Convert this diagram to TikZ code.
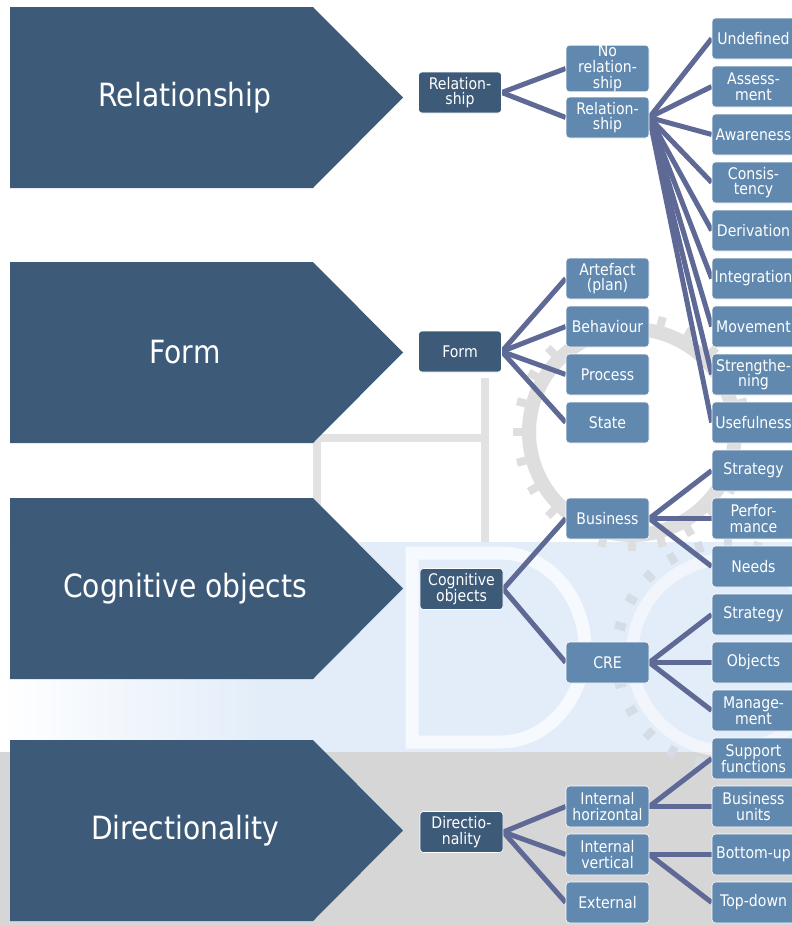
\documentclass[tikz,border=0pt]{standalone}
\usepackage{fontspec}
\setmainfont{DejaVu Sans}[FakeStretch=0.88]
\definecolor{navy}{HTML}{3D5B79}
\definecolor{steel}{HTML}{6189AF}
\definecolor{linkc}{HTML}{5E6996}
\definecolor{bandblue}{HTML}{E3EDF9}
\definecolor{bandgray}{HTML}{D6D6D6}
\definecolor{gearc}{HTML}{DEDEDE}
\definecolor{gearb}{HTML}{D6DCE5}
\definecolor{framec}{HTML}{E2E2E2}
\pgfdeclarelayer{back}
\pgfdeclarelayer{links}
\pgfsetlayers{back,links,main}
\begin{document}
\begin{tikzpicture}[x=1pt,y=-1pt,
  hdrtext/.style={text=white,inner sep=0pt,font=\fontsize{32}{36}\selectfont},
  topbox/.style={rectangle,rounded corners=3.5pt,draw=white,line width=0.6pt,
    fill=navy,text=white,minimum width=83pt,minimum height=41pt,inner sep=0pt,
    align=center,font=\fontsize{16}{15.8}\selectfont},
  subbox/.style={topbox,fill=steel},
  link/.style={draw=linkc,line width=5pt}]

\useasboundingbox (0,0) rectangle (792,926);
\clip (0,0) rectangle (792,926);

% ---------- backdrop: bands and faint logo ----------
\begin{pgfonlayer}{back}
  \fill[white] (0,0) rectangle (792,926);
  \shade[left color=white,right color=bandblue] (0,542) rectangle (260,752);
  \fill[bandblue] (259,542) rectangle (792,752);
  \fill[bandgray] (0,752) rectangle (792,926);
  % frame strokes
  \draw[framec,line width=8pt] (317,542) -- (317,438) -- (485,438);
  \draw[framec,line width=8pt] (485,378) -- (485,542);
  % upper gear
  \draw[gearc,line width=14pt] (632,432) circle (103);
  \foreach \a in {0,15,...,345}
    \draw[gearc,line width=8pt,shift={(632,432)}] (\a:108) -- (\a:119);
  % letter outline
  \draw[white,line width=13pt,opacity=.7] (412,742) -- (412,553) -- (500,553)
    .. controls (550,553) and (585,600) .. (585,647.5)
    .. controls (585,695) and (550,742) .. (500,742) -- cycle;
  % lower gear
  \foreach \a in {0,15,...,345}
    \draw[gearb,line width=8pt,shift={(728,655)}] (\a:106) -- (\a:117);
  \draw[white,line width=12pt,opacity=.55] (728,655) circle (96);
\end{pgfonlayer}

% ---------- category chevrons ----------
\fill[navy] (10,7) -- (313,7) -- (403,97.5) -- (313,188) -- (10,188) -- cycle;
\fill[navy] (10,262) -- (313,262) -- (403,352.5) -- (313,443) -- (10,443) -- cycle;
\fill[navy] (10,498) -- (313,498) -- (403,588.5) -- (313,679) -- (10,679) -- cycle;
\fill[navy] (10,740) -- (313,740) -- (403,830.5) -- (313,921) -- (10,921) -- cycle;
\node[hdrtext] (relH) at (185,97.5) {Relationship};
\node[hdrtext] (formH) at (185,352.5) {Form};
\node[hdrtext] (cogH) at (185,588.5) {Cognitive objects};
\node[hdrtext] (dirH) at (185,830.5) {Directionality};

% ---------- first level ----------
\node[topbox] (relA) at (460,92.5) {Relation-\\ship};
\node[topbox] (formA) at (460,351.5) {Form};
\node[topbox] (cogA) at (461.5,589) {Cognitive\\objects};
\node[topbox] (dirA) at (461.5,832) {Directio-\\nality};

% ---------- second level ----------
\node[subbox] (norel) at (607.5,68.5) {No\\relation-\\ship};
\node[subbox] (rel) at (607.5,117.5) {Relation-\\ship};
\node[subbox] (art) at (607.5,278.5) {Artefact\\(plan)};
\node[subbox] (beh) at (607.5,326.5) {Behaviour};
\node[subbox] (proc) at (607.5,374.5) {Process};
\node[subbox] (state) at (607.5,422.5) {State};
\node[subbox] (bus) at (607.5,518.5) {Business};
\node[subbox] (cre) at (607.5,662.5) {CRE};
\node[subbox] (ih) at (607.5,806.5) {Internal\\horizontal};
\node[subbox] (iv) at (607.5,854.5) {Internal\\vertical};
\node[subbox] (ext) at (607.5,902.5) {External};

% ---------- third level ----------
\node[subbox] (und) at (753.5,38.5) {Undefined};
\node[subbox] (ass) at (753.5,86.5) {Assess-\\ment};
\node[subbox] (awa) at (753.5,134.5) {Awareness};
\node[subbox] (con) at (753.5,182.5) {Consis-\\tency};
\node[subbox] (der) at (753.5,230.5) {Derivation};
\node[subbox] (integ) at (753.5,278.5) {Integration};
\node[subbox] (mov) at (753.5,326.5) {Movement};
\node[subbox] (stren) at (753.5,374.5) {Strengthe-\\ning};
\node[subbox] (usef) at (753.5,422.5) {Usefulness};
\node[subbox] (bstr) at (753.5,470.5) {Strategy};
\node[subbox] (perf) at (753.5,518.5) {Perfor-\\mance};
\node[subbox] (need) at (753.5,566.5) {Needs};
\node[subbox] (cstr) at (753.5,614.5) {Strategy};
\node[subbox] (obj) at (753.5,662.5) {Objects};
\node[subbox] (mgmt) at (753.5,710.5) {Manage-\\ment};
\node[subbox] (supp) at (753.5,758.5) {Support\\functions};
\node[subbox] (bu) at (753.5,806.5) {Business\\units};
\node[subbox] (bot) at (753.5,854.5) {Bottom-up};
\node[subbox] (topd) at (753.5,902.5) {Top-down};

% ---------- connectors ----------
\begin{pgfonlayer}{links}
  \foreach \c in {norel,rel} \draw[link] (relA.east) -- (\c.west);
  \foreach \c in {und,ass,awa,con,der,integ,mov,stren,usef} \draw[link] (rel.east) -- (\c.west);
  \foreach \c in {art,beh,proc,state} \draw[link] (formA.east) -- (\c.west);
  \foreach \c in {bus,cre} \draw[link] (cogA.east) -- (\c.west);
  \foreach \c in {bstr,perf,need} \draw[link] (bus.east) -- (\c.west);
  \foreach \c in {cstr,obj,mgmt} \draw[link] (cre.east) -- (\c.west);
  \foreach \c in {ih,iv,ext} \draw[link] (dirA.east) -- (\c.west);
  \foreach \c in {supp,bu} \draw[link] (ih.east) -- (\c.west);
  \foreach \c in {bot,topd} \draw[link] (iv.east) -- (\c.west);
\end{pgfonlayer}
\end{tikzpicture}
\end{document}
